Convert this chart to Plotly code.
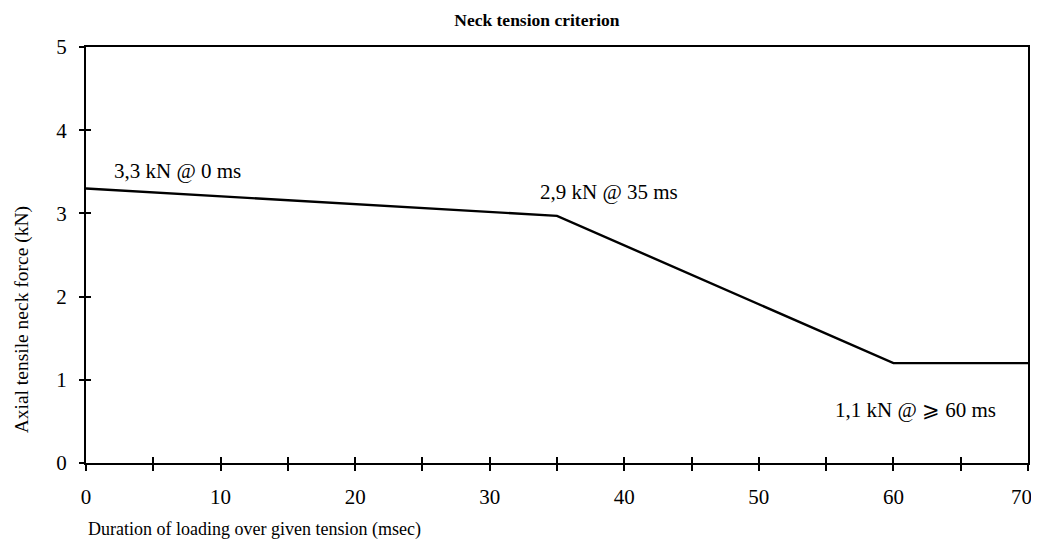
import plotly.graph_objects as go

duration_ms = [0, 35, 60, 70]
force_kn = [3.3, 2.97, 1.2, 1.2]
x_ticks = [0, 10, 20, 30, 40, 50, 60, 70]
x_tick_text = ["0", "10", "20", "30", "40", "50", "60", ""]
last_x_label = "70"
y_ticks = [0, 1, 2, 3, 4, 5]
labels = ["3,3 kN @ 0 ms", "2,9 kN @ 35 ms", "1,1 kN @ \u2a7e 60 ms"]

FONT = "Liberation Serif"

fig = go.Figure()
fig.add_trace(go.Scatter(x=duration_ms, y=force_kn, mode="lines",
                         line=dict(color="black", width=2.4), showlegend=False,
                         hoverinfo="skip"))
fig.add_trace(go.Scatter(x=[None], y=[None], xaxis="x2", yaxis="y2",
                         showlegend=False, hoverinfo="skip"))

axis_common = dict(showgrid=False, zeroline=False, showline=True, linecolor="black",
                   linewidth=2, mirror=True, tickcolor="black", tickwidth=2,
                   tickfont=dict(family=FONT, size=21, color="black"))

fig.update_layout(
    width=1031, height=539,
    paper_bgcolor="white", plot_bgcolor="white",
    margin=dict(l=78, r=11, t=39, b=84, autoexpand=False),
    title=dict(text="<b>Neck tension criterion</b>", x=0.513, xanchor="center",
               y=0.978, yanchor="middle",
               font=dict(family=FONT, size=17.5, color="black")),
    xaxis=dict(range=[0, 70], tickvals=x_ticks, ticktext=x_tick_text,
               ticks="outside", ticklen=6, ticklabelstandoff=8,
               minor=dict(dtick=5, tick0=0, ticks="outside", ticklen=6,
                          tickwidth=2, tickcolor="black"),
               **axis_common),
    yaxis=dict(range=[0, 5], tickvals=y_ticks, ticks="outside", ticklen=5,
               ticklabelstandoff=8, **axis_common),
    xaxis2=dict(range=[0, 70], overlaying="x", side="bottom", showgrid=False,
                zeroline=False, showticklabels=False, tickvals=x_ticks,
                ticks="inside", ticklen=6, tickwidth=2, tickcolor="black",
                minor=dict(dtick=5, tick0=0, ticks="inside", ticklen=6,
                           tickwidth=2, tickcolor="black")),
    yaxis2=dict(range=[0, 5], overlaying="y", side="left", showgrid=False,
                zeroline=False, showticklabels=False, tickvals=y_ticks,
                ticks="inside", ticklen=5, tickwidth=2, tickcolor="black"),
)

fig.add_annotation(x=x_ticks[-1], y=y_ticks[0], text=last_x_label, showarrow=False,
                   xanchor="center", yanchor="top", xshift=-7, yshift=-20,
                   font=dict(family=FONT, size=21, color="black"))

fig.add_annotation(x=1.93, y=3.51, text=labels[0], showarrow=False,
                   xanchor="left", yanchor="middle",
                   font=dict(family=FONT, size=21, color="black"))
fig.add_annotation(x=33.6, y=3.26, text=labels[1], showarrow=False,
                   xanchor="left", yanchor="middle",
                   font=dict(family=FONT, size=21, color="black"))
fig.add_annotation(x=55.5, y=0.64, text=labels[2], showarrow=False,
                   xanchor="left", yanchor="middle",
                   font=dict(family=FONT, size=21, color="black"))

fig.add_annotation(xref="paper", yref="paper", x=0, y=-0.16,
                   text="Duration of loading over given tension (msec)",
                   showarrow=False, xanchor="left", yanchor="middle",
                   font=dict(family=FONT, size=18, color="black"))
fig.add_annotation(xref="paper", yref="paper", x=-0.0685, y=0.344,
                   text="Axial tensile neck force (kN)", textangle=-90,
                   showarrow=False, xanchor="center", yanchor="middle",
                   font=dict(family=FONT, size=19.5, color="black"))

fig.write_html("out.html")
